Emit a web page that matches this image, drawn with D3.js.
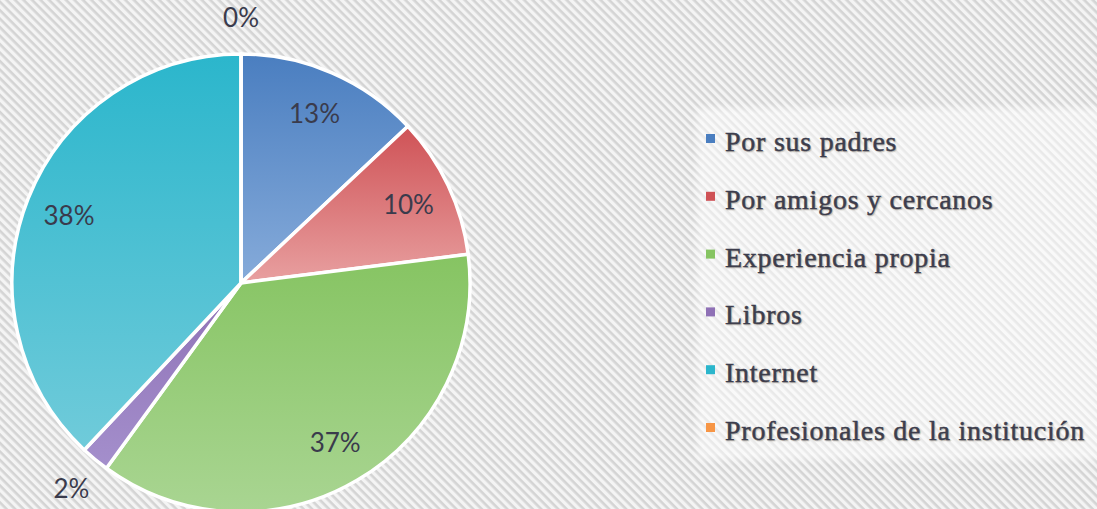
<!DOCTYPE html>
<html>
<head>
<meta charset="utf-8">
<script src="https://cdn.jsdelivr.net/npm/d3@7/dist/d3.min.js"></script>
<style>
  html, body { margin: 0; padding: 0; background: #f3f3f3; }
  svg { display: block; }
</style>
</head>
<body>
<svg id="chart" width="1097" height="509"></svg>
<script>
// Fuentes de información (porcentaje de respuestas)
const categories = [
  "Por sus padres",
  "Por amigos y cercanos",
  "Experiencia propia",
  "Libros",
  "Internet",
  "Profesionales de la institución"
];
const values = [13, 10, 37, 2, 38, 0];
const percentLabels = ["13%", "10%", "37%", "2%", "38%", "0%"];
const colorsTop = ["#4a7ec0", "#cf5256", "#86c462", "#8f71b6", "#2bb6cc", "#f79646"];
const colorsBottom = ["#86abda", "#e8a0a0", "#a9d592", "#a48fcc", "#70cbda", "#f9b27a"];

const W = 1097, H = 509;
const cx = 241, cy = 283, R = 229;

const svg = d3.select("#chart");
const defs = svg.append("defs");

// striped backdrop
const pat = defs.append("pattern")
  .attr("id", "stripes")
  .attr("patternUnits", "userSpaceOnUse")
  .attr("width", 6).attr("height", 6)
  .attr("patternTransform", "rotate(45)");
pat.append("rect").attr("width", 6).attr("height", 6).attr("fill", "#f4f4f4");
pat.append("rect").attr("width", 6).attr("height", 2.6).attr("fill", "#d4d4d4");

svg.append("rect").attr("width", W).attr("height", H).attr("fill", "url(#stripes)");

// soft edge for the legend panel
const blur = defs.append("filter").attr("id", "soft")
  .attr("x", "-5%").attr("y", "-5%").attr("width", "110%").attr("height", "110%");
blur.append("feGaussianBlur").attr("stdDeviation", 3);

// per-slice vertical gradients
categories.forEach((c, i) => {
  const g = defs.append("linearGradient")
    .attr("id", "grad" + i)
    .attr("x1", 0).attr("y1", 0).attr("x2", 0).attr("y2", 1);
  g.append("stop").attr("offset", "0%").attr("stop-color", colorsTop[i]);
  g.append("stop").attr("offset", "100%").attr("stop-color", colorsBottom[i]);
});

const data = categories.map((c, i) => ({ name: c, value: values[i], label: percentLabels[i], i }));

const pie = d3.pie().value(d => d.value).sort(null).startAngle(0).endAngle(2 * Math.PI);
const arcs = pie(data);

const arc = d3.arc().innerRadius(0).outerRadius(R);
const labelIn = d3.arc().innerRadius(185).outerRadius(185);
const labelOut = d3.arc().innerRadius(266).outerRadius(266);

const g = svg.append("g").attr("transform", `translate(${cx},${cy})`);

g.selectAll("path.slice")
  .data(arcs)
  .join("path")
  .attr("class", "slice")
  .attr("d", arc)
  .attr("fill", d => `url(#grad${d.data.i})`)
  .attr("stroke", "#ffffff")
  .attr("stroke-width", 3.5)
  .attr("stroke-linejoin", "round");

g.selectAll("text.pct")
  .data(arcs)
  .join("text")
  .attr("class", "pct")
  .attr("transform", d => {
    const a = d.data.value <= 2 ? labelOut : labelIn;
    const [x, y] = a.centroid(d);
    return `translate(${x},${y})`;
  })
  .attr("text-anchor", "middle")
  .attr("dominant-baseline", "central")
  .attr("font-family", "Lato, 'Open Sans', sans-serif")
  .attr("font-size", 26)
  .attr("fill", "#3a3b4c")
  .text(d => d.data.label);

// legend
const legend = svg.append("g");
legend.append("rect")
  .attr("x", 697).attr("y", 108)
  .attr("width", 410).attr("height", 352)
  .attr("fill", "#ffffff").attr("opacity", 0.5)
  .attr("filter", "url(#soft)");

const rowY = d3.scalePoint().domain(categories).range([151, 440]);

const items = legend.selectAll("g.item")
  .data(data)
  .join("g")
  .attr("class", "item")
  .attr("transform", d => `translate(0,${rowY(d.name)})`);

items.append("rect")
  .attr("x", 706).attr("y", -17)
  .attr("width", 9).attr("height", 9)
  .attr("fill", d => colorsTop[d.i]);

items.append("text")
  .attr("x", 725).attr("y", 0)
  .attr("font-family", "'Liberation Serif', 'Times New Roman', serif")
  .attr("font-size", 28)
  .attr("letter-spacing", 0.75)
  .attr("fill", "#3a3b4c")
  .attr("stroke", "#3a3b4c")
  .attr("stroke-width", 0.45)
  .style("text-shadow", "1px 1px 1px rgba(120,110,90,0.35)")
  .text(d => d.name);
</script>
</body>
</html>
